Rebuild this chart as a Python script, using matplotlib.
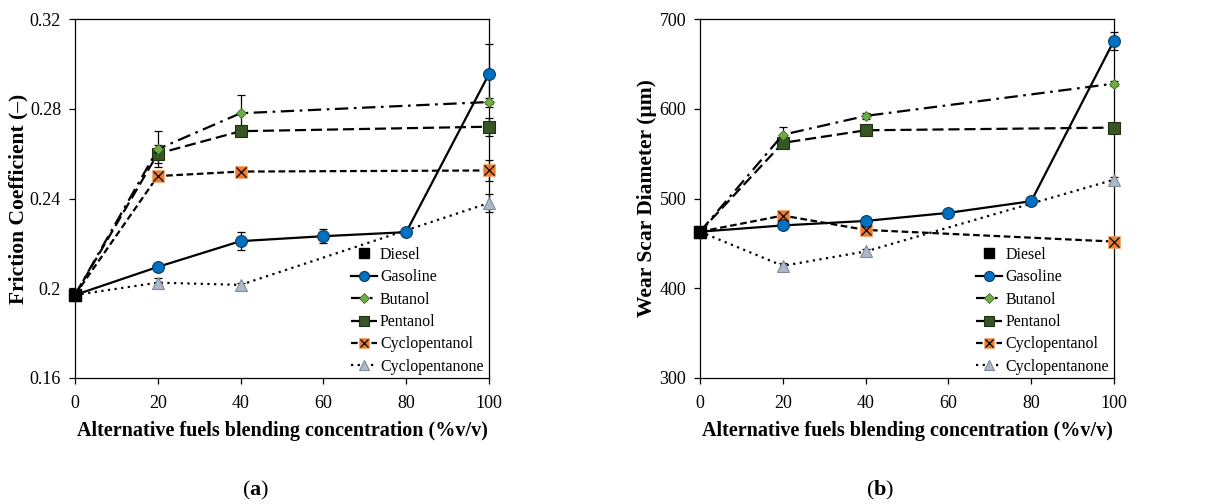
import matplotlib
matplotlib.use("Agg")
import matplotlib.pyplot as plt
from matplotlib.legend_handler import HandlerTuple
from matplotlib.ticker import FuncFormatter

plt.rcParams['font.family'] = ['Liberation Serif', 'DejaVu Serif']
plt.rcParams['mathtext.fontset'] = 'custom'
plt.rcParams['mathtext.rm'] = 'Liberation Serif'
plt.rcParams['mathtext.bf'] = 'Liberation Serif:bold'

# blending concentration (%v/v)
conc = [0, 20, 40, 60, 80, 100]
conc_alt = [0, 20, 40, 100]

# (a) friction coefficient
diesel_fc = 0.197
gasoline_fc = [0.197, 0.2095, 0.221, 0.2232, 0.225, 0.2955]
gasoline_fc_err = [0, 0.001, 0.004, 0.003, 0.001, 0.0135]
butanol_fc = [0.197, 0.262, 0.278, 0.283]
butanol_fc_err = [0, 0.008, 0.008, 0.002]
pentanol_fc = [0.197, 0.260, 0.270, 0.272]
pentanol_fc_err = [0, 0.004, 0.002, 0.004]
cyclopentanol_fc = [0.197, 0.250, 0.252, 0.2525]
cyclopentanol_fc_err = [0, 0.001, 0.001, 0.0045]
cyclopentanone_fc = [0.197, 0.2025, 0.2015, 0.238]
cyclopentanone_fc_err = [0, 0.002, 0.001, 0.004]

# (b) wear scar diameter (um)
diesel_wsd = 463
gasoline_wsd = [463, 470, 475, 484, 497, 676]
gasoline_wsd_err = [0, 3, 3, 4, 3, 10]
butanol_wsd = [463, 571, 592, 628]
butanol_wsd_err = [0, 9, 3, 3]
pentanol_wsd = [463, 562, 576, 579]
pentanol_wsd_err = [0, 3, 3, 3]
cyclopentanol_wsd = [463, 481, 465, 452]
cyclopentanol_wsd_err = [0, 3, 3, 3]
cyclopentanone_wsd = [463, 425, 441, 521]
cyclopentanone_wsd_err = [0, 3, 3, 3]

names = ['Diesel', 'Gasoline', 'Butanol', 'Pentanol', 'Cyclopentanol', 'Cyclopentanone']


def draw_panel(ax, diesel, gas, gas_err, but, but_err, pen, pen_err,
               cpl, cpl_err, cpo, cpo_err):
    eb = dict(ecolor='black', elinewidth=0.9, capsize=3, capthick=0.9)
    lw = 1.6
    for xs, ys, es in [(conc, gas, gas_err), (conc_alt, but, but_err),
                       (conc_alt, pen, pen_err), (conc_alt, cpl, cpl_err),
                       (conc_alt, cpo, cpo_err)]:
        ebc = ax.errorbar(xs, ys, yerr=es, fmt='none', zorder=2, **eb)
        for art in ebc.lines[1] + ebc.lines[2]:
            art.set_clip_on(False)

    h_cpo, = ax.plot(conc_alt, cpo, color='black', lw=lw, ls=(0, (1, 2)),
                     marker='^', ms=9, mfc='#ADB9CA', mec='#7F8B9B', mew=0.8,
                     zorder=3, clip_on=False)
    h_cpl, = ax.plot(conc_alt, cpl, color='black', lw=lw, ls=(0, (3, 1.6)),
                     marker='s', ms=8.5, mfc='#ED7D31', mec='#F4A36A', mew=0.5,
                     zorder=3, clip_on=False)
    h_cplx, = ax.plot(conc_alt, cpl, ls='none', marker='x', ms=7, mec='black',
                      mew=0.9, zorder=4, clip_on=False)
    h_pen, = ax.plot(conc_alt, pen, color='black', lw=lw, ls=(0, (5, 2.2)),
                     marker='s', ms=8.5, mfc='#375623', mec='#1E2F13', mew=0.8,
                     zorder=3, clip_on=False)
    h_but, = ax.plot(conc_alt, but, color='black', lw=lw, ls=(0, (6, 2.5, 1.2, 2.5)),
                     marker='D', ms=5.5, mfc='#70AD47', mec='#3D6B22', mew=0.6,
                     zorder=3, clip_on=False)
    h_gas, = ax.plot(conc, gas, color='black', lw=lw, ls='-',
                     marker='o', ms=8.5, mfc='#0070C0', mec='#0A3A66', mew=0.8,
                     zorder=3, clip_on=False)
    h_dsl, = ax.plot([0], [diesel], ls='none', marker='s', ms=8, mfc='black',
                     mec='black', zorder=5, clip_on=False)

    handles = [h_dsl, h_gas, h_but, h_pen, (h_cpl, h_cplx), h_cpo]
    ax.legend(handles, names, loc='lower right', bbox_to_anchor=(1.01, -0.018),
              frameon=False, fontsize=11.5, handlelength=1.6, handletextpad=0.2,
              labelspacing=0.4, markerscale=0.85, borderaxespad=0.2,
              handler_map={tuple: HandlerTuple(ndivide=1)})

    ax.set_xlim(0, 100)
    ax.set_xticks(conc)
    for sp in ax.spines.values():
        sp.set_linewidth(0.9)
    ax.tick_params(direction='out', length=4, width=0.9, labelsize=13)
    ax.tick_params(axis='x', pad=8)
    ax.tick_params(axis='y', pad=6)
    ax.set_xlabel('Alternative fuels blending concentration (%v/v)',
                  fontsize=14.5, fontweight='bold', labelpad=7)


fig = plt.figure(figsize=(12.17, 5.04), dpi=100)
ax1 = fig.add_axes([0.0616, 0.25, 0.3402, 0.7123])
ax2 = fig.add_axes([0.5752, 0.25, 0.3402, 0.7123])

draw_panel(ax1, diesel_fc, gasoline_fc, gasoline_fc_err, butanol_fc, butanol_fc_err,
           pentanol_fc, pentanol_fc_err, cyclopentanol_fc, cyclopentanol_fc_err,
           cyclopentanone_fc, cyclopentanone_fc_err)
ax1.set_ylim(0.16, 0.32)
ax1.set_yticks([0.16, 0.20, 0.24, 0.28, 0.32])
ax1.yaxis.set_major_formatter(FuncFormatter(lambda v, p: '%g' % round(v, 2)))
ax1.set_ylabel('Friction Coefficient (–)', fontsize=15.5, fontweight='bold', labelpad=1)

draw_panel(ax2, diesel_wsd, gasoline_wsd, gasoline_wsd_err, butanol_wsd, butanol_wsd_err,
           pentanol_wsd, pentanol_wsd_err, cyclopentanol_wsd, cyclopentanol_wsd_err,
           cyclopentanone_wsd, cyclopentanone_wsd_err)
ax2.set_ylim(300, 700)
ax2.set_yticks([300, 400, 500, 600, 700])
ax2.set_ylabel('Wear Scar Diameter (µm)', fontsize=15.5, fontweight='bold', labelpad=2)

fig.text(256 / 1217, 1 - 490 / 504, r'$(\mathbf{a})$', fontsize=16, ha='center', va='center')
fig.text(880 / 1217, 1 - 490 / 504, r'$(\mathbf{b})$', fontsize=16, ha='center', va='center')

fig.savefig('out.png', dpi=100)
